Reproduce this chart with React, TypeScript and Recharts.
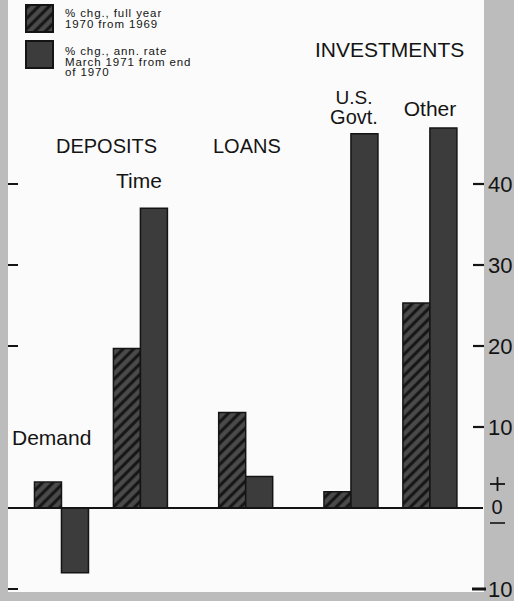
import React from "react";
import { BarChart, Bar, XAxis, YAxis, ReferenceLine } from "recharts";

const PAPER = "#bcbcbc";
const PANEL = "#fbfbfb";
const INK = "#141414";
const BAR_FILL = "#3c3c3c";
const HATCH_BASE = "#4a4a4a";
const FONT = "'Liberation Sans', Arial, Helvetica, sans-serif";

// groups along the x axis; slots leave room between the three sections
const groups = ["Demand", "Time", "Loans", "U.S. Govt.", "Other"];
const slots = [0, 3, 7, 11, 14];
// % chg., full year 1970 from 1969
const fullYear = [3.2, 19.7, 11.8, 2.0, 25.3];
// % chg., annual rate, March 1971 from end of 1970
const annRate = [-8.0, 37.0, 3.9, 46.2, 46.9];

const rightTicks = [-10, 0, 10, 20, 30, 40];
// ticks that also get a short mark on the left edge
const leftTicks = [-10, 20, 30, 40];

const data = groups.map((name, i) => ({
  name,
  slot: slots[i],
  fullYear: fullYear[i],
  annRate: annRate[i],
}));

const W = 514;
const H = 601;
const PLOT_LEFT = 8;
const PLOT_RIGHT = 483;

const ValueTick = (props: any) => {
  const { y, payload } = props;
  const v = payload.value;
  const leftMark = leftTicks.includes(v) ? (
    <line x1={PLOT_LEFT} x2={PLOT_LEFT + 10} y1={y} y2={y} stroke={INK} strokeWidth={2} />
  ) : null;
  if (v === 0) {
    // "+ 0 −" stacked at the zero line
    return (
      <g fontFamily={FONT} fill={INK} stroke={INK}>
        <line x1={490} x2={505} y1={y - 24} y2={y - 24} strokeWidth={1.8} />
        <line x1={497.5} x2={497.5} y1={y - 31} y2={y - 17} strokeWidth={1.8} />
        <text x={497} y={y + 6} textAnchor="middle" fontSize={20} stroke="none">0</text>
        <line x1={490} x2={505} y1={y + 15} y2={y + 15} strokeWidth={1.6} />
      </g>
    );
  }
  return (
    <g fontFamily={FONT} fill={INK}>
      {leftMark}
      <line x1={v < 0 ? 472 : 473} x2={v < 0 ? 486 : 484} y1={y} y2={y} stroke={INK} strokeWidth={v < 0 ? 3 : 2.2} />
      <text x={488} y={y + 8} fontSize={22}>{Math.abs(v)}</text>
    </g>
  );
};

const Swatch: React.FC<{ hatched?: boolean; top: number }> = ({ hatched, top }) => (
  <svg width={29} height={29} style={{ position: "absolute", left: 25, top }}>
    <defs>
      <pattern id="legendHatch" patternUnits="userSpaceOnUse" width={7.5} height={7.5} patternTransform="rotate(45)">
        <rect width={7.5} height={7.5} fill={HATCH_BASE} />
        <line x1={3.75} y1={0} x2={3.75} y2={7.5} stroke={INK} strokeWidth={3} />
      </pattern>
    </defs>
    <rect x={1} y={1} width={27} height={27} fill={hatched ? "url(#legendHatch)" : BAR_FILL} stroke={INK} strokeWidth={2} />
  </svg>
);

const legendText: React.CSSProperties = {
  position: "absolute",
  left: 65,
  fontFamily: FONT,
  fontSize: 11.5,
  letterSpacing: 0.9,
  lineHeight: "10.5px",
  color: INK,
  whiteSpace: "pre",
};

export default function App() {
  return (
    <div style={{ position: "absolute", left: 0, top: 0, width: W, height: H, background: PAPER, overflow: "hidden" }}>
      <div style={{ position: "absolute", left: PLOT_LEFT, top: 0, width: PLOT_RIGHT - PLOT_LEFT + 1, height: 592, background: PANEL }} />

      <Swatch hatched top={4} />
      <div style={{ ...legendText, top: 8 }}>{"% chg., full year\n1970 from 1969"}</div>
      <Swatch top={40} />
      <div style={{ ...legendText, top: 46 }}>{"% chg., ann. rate\nMarch 1971 from end\nof 1970"}</div>

      <div style={{ position: "absolute", left: 0, top: 0 }}>
        <BarChart
          width={W}
          height={H}
          data={data}
          margin={{ top: 22, right: W - PLOT_RIGHT - 1, bottom: 12, left: PLOT_LEFT }}
          barGap={0}
          barSize={27}
        >
          <defs>
            <pattern id="barHatch" patternUnits="userSpaceOnUse" width={7.5} height={7.5} patternTransform="rotate(45)">
              <rect width={7.5} height={7.5} fill={HATCH_BASE} />
              <line x1={3.75} y1={0} x2={3.75} y2={7.5} stroke={INK} strokeWidth={3} />
            </pattern>
          </defs>
          <XAxis dataKey="slot" type="number" domain={[-2.05, 16.0]} allowDataOverflow hide />
          <YAxis
            orientation="right"
            width={1}
            domain={[-10, 60]}
            ticks={rightTicks}
            axisLine={false}
            tickLine={false}
            tick={<ValueTick />}
            interval={0}
          />
          <Bar dataKey="fullYear" fill="url(#barHatch)" stroke={INK} strokeWidth={1.5} isAnimationActive={false} />
          <Bar dataKey="annRate" fill={BAR_FILL} stroke={INK} strokeWidth={1.5} isAnimationActive={false} />
          <ReferenceLine y={0} stroke={INK} strokeWidth={2} />

          <g fontFamily={FONT} fill={INK}>
            <text x={315} y={57} fontSize={21}>INVESTMENTS</text>
            <text x={354} y={104} fontSize={19} textAnchor="middle">U.S.</text>
            <text x={354} y={124} fontSize={20} textAnchor="middle">Govt.</text>
            <text x={430} y={116} fontSize={21} textAnchor="middle">Other</text>
            <text x={56} y={153} fontSize={20}>DEPOSITS</text>
            <text x={213} y={153} fontSize={20}>LOANS</text>
            <text x={116} y={188} fontSize={21}>Time</text>
            <text x={12} y={445} fontSize={21}>Demand</text>
          </g>
        </BarChart>
      </div>
    </div>
  );
}
